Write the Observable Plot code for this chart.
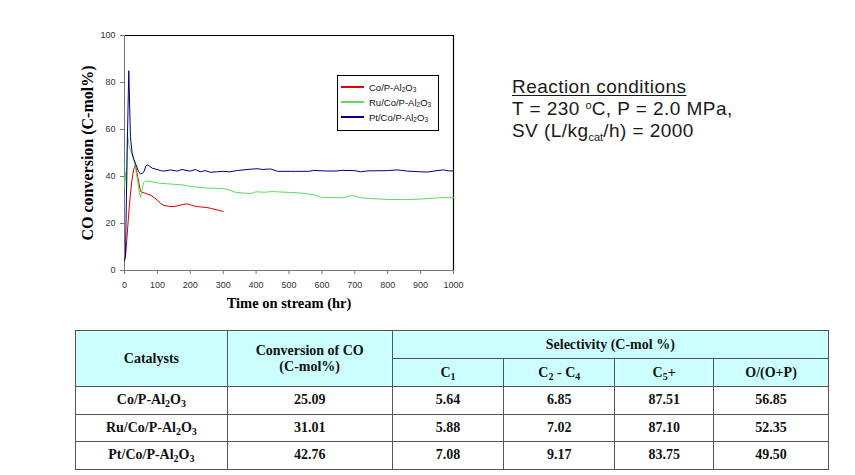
<!DOCTYPE html>
<html><head><meta charset="utf-8">
<script src="https://cdn.jsdelivr.net/npm/d3@7"></script>
<script src="https://cdn.jsdelivr.net/npm/@observablehq/plot@0.6"></script>
<style>
body{margin:0;background:#fff;}
#wrap{position:relative;width:855px;height:475px;overflow:hidden;background:#fff;}
#chart{position:absolute;left:60px;top:20px;}
#chart g[aria-label="y-axis label"] text{font-family:"Liberation Serif";font-weight:bold;font-size:16px;fill:#000;}
#chart g[aria-label="x-axis label"] text{font-family:"Liberation Serif";font-weight:bold;font-size:14.5px;fill:#000;}
#legend{position:absolute;left:337px;top:75px;width:102px;height:56px;border:1px solid #000;box-sizing:border-box;background:#fff;font-family:"Liberation Sans",Arial;font-size:9.5px;color:#111;}
#legend .row{position:absolute;left:3px;height:10px;display:flex;align-items:center;white-space:nowrap;}
#legend .sw{display:inline-block;width:23px;height:1.2px;margin-right:5px;}
#legend sub{font-size:6.5px;position:relative;top:1px;vertical-align:baseline;line-height:0;}
#note{position:absolute;left:512px;top:76px;font-family:"Liberation Sans",Arial;font-size:19px;line-height:22px;letter-spacing:0.45px;color:#1a1a1a;white-space:nowrap;}
#note .u{text-decoration:underline;text-decoration-thickness:1px;text-underline-offset:2px;}
#note sub{font-size:11px;position:relative;top:4px;vertical-align:baseline;line-height:0;letter-spacing:0;}
#note sup{font-size:11px;position:relative;top:-6px;vertical-align:baseline;line-height:0;letter-spacing:0;}
#tbl{position:absolute;left:75px;top:330px;width:754px;height:139px;border-collapse:collapse;font-family:"Liberation Serif";font-weight:bold;font-size:14px;color:#111;}
#tbl td,#tbl th{border:1px solid #555;text-align:center;padding:0;}
#tbl th{background:#ccffff;font-weight:bold;}
#tbl sub{font-size:10px;position:relative;top:3px;vertical-align:baseline;line-height:0;}
#tbl tr.dark td{border-top:1.5px solid #000;}
</style></head>
<body><div id="wrap"><div id="chart"></div><div id="legend"></div><div id="note"></div><table id="tbl"></table></div>
<script>
// ----- chart data -----
const seriesNames = ["Co/P-Al2O3", "Ru/Co/P-Al2O3", "Pt/Co/P-Al2O3"];
const seriesColors = ["#e00000", "#5ddc5d", "#000080"];

const tRed = [0, 3, 8, 15, 22, 28, 33, 40, 49, 60, 70, 80, 90, 100, 110, 120, 135, 150, 160, 175, 190, 200, 210, 221, 235, 250, 261, 275, 290, 300];
const vRed = [5, 6, 15, 28, 38, 43, 45, 40, 33.5, 33, 32.5, 32, 31, 30, 28.5, 27.7, 27.3, 27.2, 27.5, 28, 28.4, 28, 27.5, 27.2, 27, 26.8, 26.5, 26, 25.5, 25.1];

const tGreen = [0, 3, 6, 9, 12, 16, 22, 28, 34, 40, 45, 49, 53, 58, 64, 75, 90, 104, 120, 140, 170, 200, 240, 270, 302, 320, 337, 360, 383, 400, 424, 450, 474, 505, 540, 576, 596, 630, 666, 692, 717, 750, 808, 860, 900, 940, 970, 1000];
const vGreen = [36, 42, 35, 58, 55, 52, 50, 47, 43, 38, 33, 31, 34, 37.5, 38, 38, 37.6, 37.2, 37, 36.8, 36.5, 35.8, 35.2, 35, 34.8, 34.2, 33.3, 33, 32.7, 33.5, 33.3, 33.6, 33.4, 33.2, 32.9, 32.2, 31.2, 31, 31, 32, 31, 30.6, 30.2, 30.2, 30.4, 30.8, 31, 31];

const tBlue = [0, 3, 8, 13, 18, 23, 28, 35, 43, 49, 55, 59, 65, 69, 75, 85, 99, 110, 120, 140, 160, 175, 190, 200, 215, 230, 245, 261, 280, 300, 320, 340, 360, 383, 403, 420, 444, 465, 520, 560, 575, 600, 640, 660, 700, 717, 740, 800, 829, 860, 900, 920, 950, 970, 985, 1000];
const vBlue = [4, 6, 50, 85, 57, 50, 47.5, 45, 42, 41, 41.5, 42, 44.5, 45, 44.5, 43.5, 43, 42.5, 42.3, 42.8, 42.3, 43, 42.5, 42.3, 43, 42, 42.5, 41.8, 42, 42.2, 42, 42.5, 42.8, 43.1, 43.3, 43, 43.2, 42.2, 42.2, 42.2, 42.6, 42.4, 42.3, 42.6, 42.5, 42, 42.4, 42.5, 42.8, 42.3, 42, 41.9, 42.5, 42.8, 42.4, 42.4];

const xTicks = [0, 100, 200, 300, 400, 500, 600, 700, 800, 900, 1000];
const yTicks = [0, 20, 40, 60, 80, 100];
const xLabel = "Time on stream (hr)";
const yLabel = "CO conversion (C-mol%)";

// ----- annotation -----
const noteTitle = "Reaction conditions";
const noteLines = ["T = 230 <sup>o</sup>C, P = 2.0 MPa,", "SV (L/kg<sub>cat</sub>/h) = 2000"];

// ----- table data -----
const tableCatalysts = ["Co/P-Al2O3", "Ru/Co/P-Al2O3", "Pt/Co/P-Al2O3"];
const tableConversion = ["25.09", "31.01", "42.76"];
const tableC1 = ["5.64", "5.88", "7.08"];
const tableC2C4 = ["6.85", "7.02", "9.17"];
const tableC5 = ["87.51", "87.10", "83.75"];
const tableOP = ["56.85", "52.35", "49.50"];

// ----- build -----
const sub = s => s.replace(/(\d)/g, "<sub>$1</sub>");
const rows = [];
[[tRed, vRed], [tGreen, vGreen], [tBlue, vBlue]].forEach(([ts, vs], i) => {
  ts.forEach((t, j) => rows.push({series: seriesNames[i], t, v: vs[j]}));
});

const chart = Plot.plot({
  width: 410, height: 300,
  marginLeft: 64, marginRight: 17, marginTop: 15, marginBottom: 50,
  style: {fontFamily: "Liberation Sans, Arial", fontSize: "9px", color: "#333", background: "transparent", overflow: "visible"},
  x: {domain: [0, 1000]},
  y: {domain: [0, 100]},
  color: {domain: seriesNames, range: seriesColors},
  marks: [
    Plot.ruleY([100], {stroke: "#000", strokeWidth: 1.2}),
    Plot.ruleX([1000], {stroke: "#000", strokeWidth: 1.2}),
    Plot.ruleX([0], {stroke: "#777"}),
    Plot.ruleY([0], {stroke: "#777"}),
    Plot.line(rows, {x: "t", y: "v", z: "series", stroke: "series", strokeWidth: 1, curve: "linear"}),
    Plot.axisX({ticks: xTicks, tickFormat: d => String(d), tickSize: 4, tickPadding: 7, stroke: "#777", label: xLabel, labelAnchor: "center", labelOffset: 37, labelArrow: "none"}),
    Plot.axisY({ticks: yTicks, tickFormat: d => String(d), tickSize: 4, tickPadding: 5, stroke: "#777", label: yLabel, labelAnchor: "center", labelOffset: 43, labelArrow: "none"})
  ]
});
document.getElementById("chart").appendChild(chart);

// legend
const lg = document.getElementById("legend");
seriesNames.forEach((n, i) => {
  const r = document.createElement("div");
  r.className = "row";
  r.style.top = (6 + i * 15) + "px";
  r.innerHTML = `<span class="sw" style="background:${seriesColors[i]}"></span><span>${sub(n)}</span>`;
  lg.appendChild(r);
});

// note
document.getElementById("note").innerHTML =
  `<div class="u">${noteTitle}</div>` + noteLines.map(l => `<div>${l}</div>`).join("");

// table
const tbl = document.getElementById("tbl");
let html = `<colgroup><col style="width:152px"><col style="width:165px"><col style="width:112px"><col style="width:111px"><col style="width:99px"><col style="width:115px"></colgroup>`;
html += `<tr style="height:28px"><th rowspan="2">Catalysts</th><th rowspan="2">Conversion of CO<br>(C-mol%)</th><th colspan="4">Selectivity (C-mol %)</th></tr>`;
html += `<tr style="height:28px"><th>C<sub>1</sub></th><th>C<sub>2</sub> - C<sub>4</sub></th><th>C<sub>5</sub>+</th><th>O/(O+P)</th></tr>`;
tableCatalysts.forEach((c, i) => {
  html += `<tr class="${i === 1 ? "dark" : ""}" style="height:27.5px"><td>${sub(c)}</td><td>${tableConversion[i]}</td><td>${tableC1[i]}</td><td>${tableC2C4[i]}</td><td>${tableC5[i]}</td><td>${tableOP[i]}</td></tr>`;
});
tbl.innerHTML = html;
</script>
</body></html>
